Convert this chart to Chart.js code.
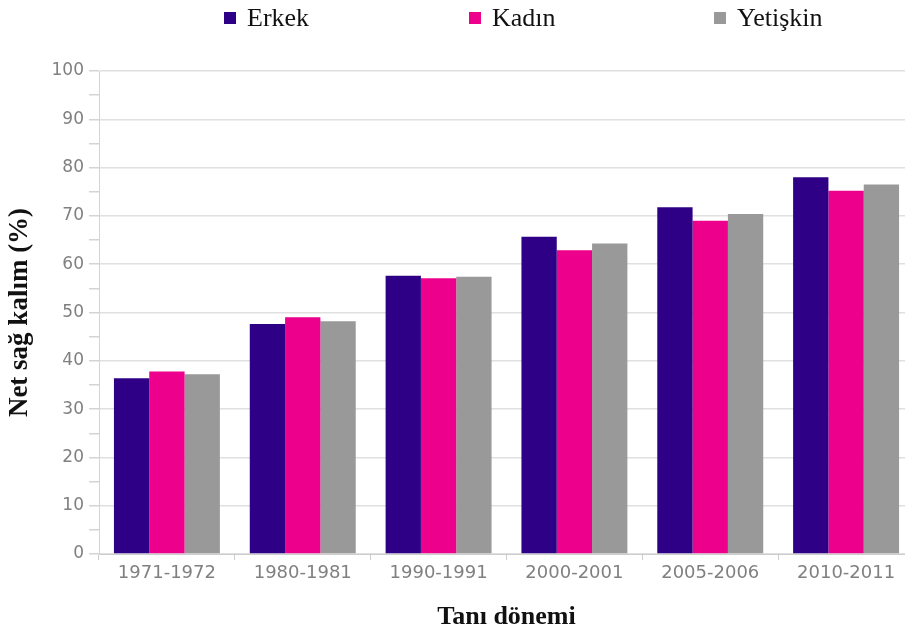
<!DOCTYPE html>
<html>
<head>
<meta charset="utf-8">
<script src="https://cdn.jsdelivr.net/npm/chart.js@4"></script>
<style>
  html, body { margin: 0; padding: 0; background: #fff; overflow: hidden; }
  #wrap { width: 920px; height: 634px; }
</style>
</head>
<body>
<div id="wrap"><canvas id="chart" width="920" height="634"></canvas></div>
<script>
// data
const periods = ['1971-1972', '1980-1981', '1990-1991', '2000-2001', '2005-2006', '2010-2011'];
const erkek = [36.4, 47.6, 57.6, 65.7, 71.8, 78.0];
const kadin = [37.8, 49.0, 57.1, 62.9, 69.0, 75.2];
const yetiskin = [37.2, 48.2, 57.4, 64.3, 70.4, 76.5];
const seriesNames = ['Erkek', 'Kadın', 'Yetişkin'];
const yTitle = 'Net sağ kalım (%)';
const xTitle = 'Tanı dönemi';

const colors = ['#2e0086', '#ec008c', '#999999'];
const titleFont = { family: 'Liberation Serif', size: 26, weight: 'bold' };

// legend spread wide across the top, as in the original
const wideLegend = {
  id: 'wideLegend',
  afterDraw(chart) {
    const ctx = chart.ctx;
    const startX = 224, step = 245, boxTop = 12, box = 12;
    ctx.save();
    ctx.font = '26px "Liberation Serif"';
    ctx.textBaseline = 'middle';
    chart.data.datasets.forEach((ds, i) => {
      const x = startX + i * step;
      ctx.fillStyle = ds.backgroundColor;
      ctx.fillRect(x, boxTop, box, box);
      ctx.fillStyle = '#111';
      ctx.fillText(ds.label, x + box + 11, boxTop + box / 2 + 1);
    });
    ctx.restore();
  }
};

new Chart(document.getElementById('chart').getContext('2d'), {
  type: 'bar',
  data: {
    labels: periods,
    datasets: [erkek, kadin, yetiskin].map((d, i) => ({
      label: seriesNames[i],
      data: d,
      backgroundColor: colors[i],
      borderWidth: 0,
      categoryPercentage: 0.78,
      barPercentage: 1.0
    }))
  },
  options: {
    responsive: false,
    animation: false,
    layout: { padding: { left: 0, right: 6, top: 71, bottom: 0 } },
    plugins: {
      tooltip: { enabled: false },
      legend: { display: false }
    },
    scales: {
      x: {
        grid: {
          drawOnChartArea: false,
          tickLength: 6,
          color: '#cccccc'
        },
        border: { color: '#cccccc' },
        ticks: { color: '#808080', font: { family: 'DejaVu Sans', size: 18 }, padding: 3, maxRotation: 0 },
        title: { display: true, text: xTitle, color: '#111', font: titleFont, padding: { top: 0, bottom: 1 } },
        afterFit(scale) { scale.height = 80; }
      },
      y: {
        min: 0,
        max: 100,
        grid: {
          tickLength: 10,
          lineWidth: 1.5,
          color: ctx => (ctx.tick && ctx.tick.value % 10 === 0) ? '#e0e0e0' : 'rgba(0,0,0,0)',
          tickColor: '#d4d4d4'
        },
        border: { color: '#d4d4d4' },
        ticks: {
          stepSize: 5,
          autoSkip: false,
          color: '#808080',
          font: { family: 'DejaVu Sans', size: 17 },
          padding: 5,
          callback: v => (v % 10 === 0 ? v : '')
        },
        title: { display: true, text: yTitle, color: '#111', font: { family: 'Liberation Serif', size: 27, weight: 'bold' }, padding: { top: 4, bottom: 0 } },
        afterFit(scale) { scale.width = 99; }
      }
    }
  },
  plugins: [wideLegend]
});
</script>
</body>
</html>
